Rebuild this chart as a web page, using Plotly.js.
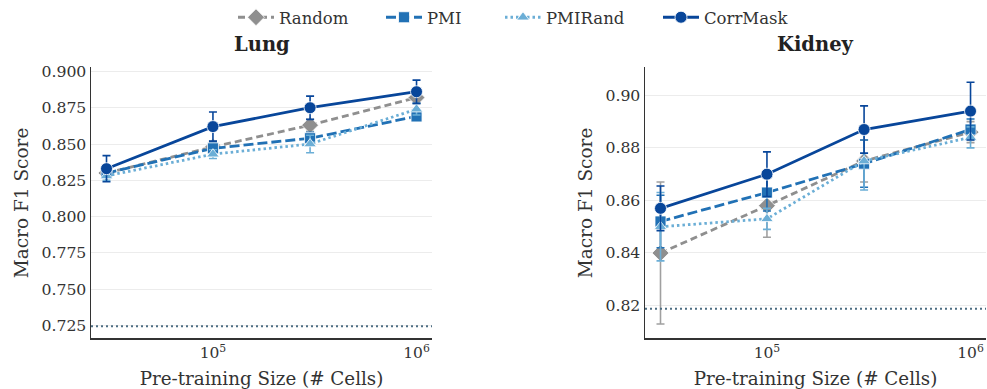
<!DOCTYPE html>
<html>
<head>
<meta charset="utf-8">
<script src="https://cdn.plot.ly/plotly-3.0.1.min.js"></script>
<style>html,body{margin:0;padding:0;background:#fff;}#chart{width:987px;height:389px;}</style>
</head>
<body>
<div id="chart"></div>
<script>
// ---- data ----
const sizes = [30000, 100000, 300000, 1000000];
const seriesNames = ['Random', 'PMI', 'PMIRand', 'CorrMask'];

const lungRandom   = [0.830, 0.848, 0.863, 0.882];
const lungRandomErr = [0.003, 0.004, 0.004, 0.004];
const lungPMI      = [0.830, 0.847, 0.854, 0.869];
const lungPMIErr   = [0.003, 0.004, 0.004, 0.003];
const lungPMIRand  = [0.828, 0.843, 0.850, 0.874];
const lungPMIRandErr = [0.003, 0.003, 0.006, 0.004];
const lungCorrMask = [0.833, 0.862, 0.875, 0.886];
const lungCorrMaskErr = [0.009, 0.010, 0.008, 0.008];
const lungBaseline = 0.7245;

const kidRandom    = [0.840, 0.858, 0.875, 0.886];
const kidRandomErr = [0.027, 0.012, 0.008, 0.004];
const kidPMI       = [0.852, 0.863, 0.874, 0.887];
const kidPMIErr    = [0.010, 0.007, 0.009, 0.004];
const kidPMIRand   = [0.850, 0.853, 0.875, 0.884];
const kidPMIRandErr = [0.013, 0.004, 0.011, 0.004];
const kidCorrMask  = [0.857, 0.870, 0.887, 0.894];
const kidCorrMaskErr = [0.0085, 0.0085, 0.009, 0.011];
const kidBaseline = 0.8188;

const xTickVals = [1e5, 1e6];
const xTickText = ['10<sup>5</sup>', '10<sup>6</sup>'];

// ---- styles ----
const styles = {
  Random:   {color: '#8f8f8f', err: '#a0a0a0', dash: '7px,4px', symbol: 'diamond', size: 13, legend: 'legend',  lx: 233},
  PMI:      {color: '#2171b5', err: '#2171b5', dash: '10px,4px', symbol: 'square', size: 11, legend: 'legend2', lx: 381},
  PMIRand:  {color: '#6baed6', err: '#6baed6', dash: '2.5px,3px', symbol: 'triangle-up', size: 11, legend: 'legend3', lx: 500},
  CorrMask: {color: '#08469a', err: '#08469a', dash: 'solid', symbol: 'circle', size: 12, legend: 'legend4', lx: 658}
};

function mk(name, y, err, xa, ya, showLeg) {
  const s = styles[name];
  return {
    x: sizes, y: y, name: name, type: 'scatter', mode: 'lines+markers',
    xaxis: xa, yaxis: ya, showlegend: showLeg, legendgroup: name, legend: s.legend,
    line: {color: s.color, width: 2.8, dash: s.dash},
    marker: {symbol: s.symbol, size: s.size, color: s.color, line: {color: '#ffffff', width: 0.8}},
    error_y: {type: 'data', array: err, visible: true, color: s.err, thickness: 1.6, width: 4}
  };
}

const data = [
  mk('Random', lungRandom, lungRandomErr, 'x', 'y', true),
  mk('PMI', lungPMI, lungPMIErr, 'x', 'y', true),
  mk('PMIRand', lungPMIRand, lungPMIRandErr, 'x', 'y', true),
  mk('CorrMask', lungCorrMask, lungCorrMaskErr, 'x', 'y', true),
  mk('Random', kidRandom, kidRandomErr, 'x2', 'y2', false),
  mk('PMI', kidPMI, kidPMIErr, 'x2', 'y2', false),
  mk('PMIRand', kidPMIRand, kidPMIRandErr, 'x2', 'y2', false),
  mk('CorrMask', kidCorrMask, kidCorrMaskErr, 'x2', 'y2', false)
];

const FONT = '"DejaVu Serif", serif';
const W = 987, H = 389;
const yDom = [1 - 338 / H, 1 - 65 / H];

function xAxis(dom, anchor) {
  return {
    type: 'log', domain: dom, anchor: anchor, range: [4.401, 6.076],
    tickvals: xTickVals, ticktext: xTickText, ticks: '', showgrid: false, zeroline: false,
    showline: true, linecolor: '#333333', linewidth: 1.5, mirror: false,
    tickfont: {family: FONT, size: 15.5, color: '#333333'},
    title: {text: 'Pre-training Size (# Cells)', font: {family: FONT, size: 18.3, color: '#333333'}, standoff: 12},
    automargin: false, fixedrange: true
  };
}
function yAxis(range, dtick, fmt, anchor) {
  return {
    domain: yDom, anchor: anchor, range: range, dtick: dtick, tick0: 0.7, tickformat: fmt,
    ticks: '', showgrid: true, gridcolor: '#ececec', gridwidth: 1, zeroline: false,
    showline: true, linecolor: '#333333', linewidth: 1.5,
    tickfont: {family: FONT, size: 15.7, color: '#333333'},
    title: {text: 'Macro F1 Score', font: {family: FONT, size: 18.5, color: '#333333'}, standoff: 8},
    automargin: false, fixedrange: true
  };
}

function legendAt(px) {
  return {orientation: 'h', x: px / W, xanchor: 'left', y: 1 + 3 / H, yanchor: 'top',
          font: {family: FONT, size: 16.5, color: '#333333'}, itemwidth: 36,
          bgcolor: 'rgba(0,0,0,0)', borderwidth: 0};
}

const layout = {
  width: W, height: H,
  margin: {l: 0, r: 0, t: 0, b: 0},
  paper_bgcolor: '#ffffff', plot_bgcolor: '#ffffff',
  font: {family: FONT, color: '#333333'},
  xaxis: xAxis([91 / W, 432 / W], 'y'),
  yaxis: yAxis([0.7161, 0.9027], 0.025, '.3f', 'x'),
  xaxis2: xAxis([645 / W, 986 / W], 'y2'),
  yaxis2: yAxis([0.8075, 0.9106], 0.02, '.2f', 'x2'),
  showlegend: true,
  legend: legendAt(styles.Random.lx),
  legend2: legendAt(styles.PMI.lx),
  legend3: legendAt(styles.PMIRand.lx),
  legend4: legendAt(styles.CorrMask.lx),
  shapes: [
    {type: 'line', xref: 'x domain', yref: 'y', x0: 0, x1: 1, y0: lungBaseline, y1: lungBaseline,
     line: {color: '#4d6d82', width: 2, dash: '2px,3px'}},
    {type: 'line', xref: 'x2 domain', yref: 'y2', x0: 0, x1: 1, y0: kidBaseline, y1: kidBaseline,
     line: {color: '#4d6d82', width: 2, dash: '2px,3px'}}
  ],
  annotations: [
    {text: '<b>Lung</b>', xref: 'x domain', yref: 'paper', x: 0.5, y: 1 - 42 / H, yanchor: 'middle',
     showarrow: false, font: {family: FONT, size: 19.5, color: '#222222'}},
    {text: '<b>Kidney</b>', xref: 'x2 domain', yref: 'paper', x: 0.5, y: 1 - 42 / H, yanchor: 'middle',
     showarrow: false, font: {family: FONT, size: 19.5, color: '#222222'}}
  ]
};

Plotly.newPlot('chart', data, layout, {displayModeBar: false, staticPlot: true});
</script>
</body>
</html>
